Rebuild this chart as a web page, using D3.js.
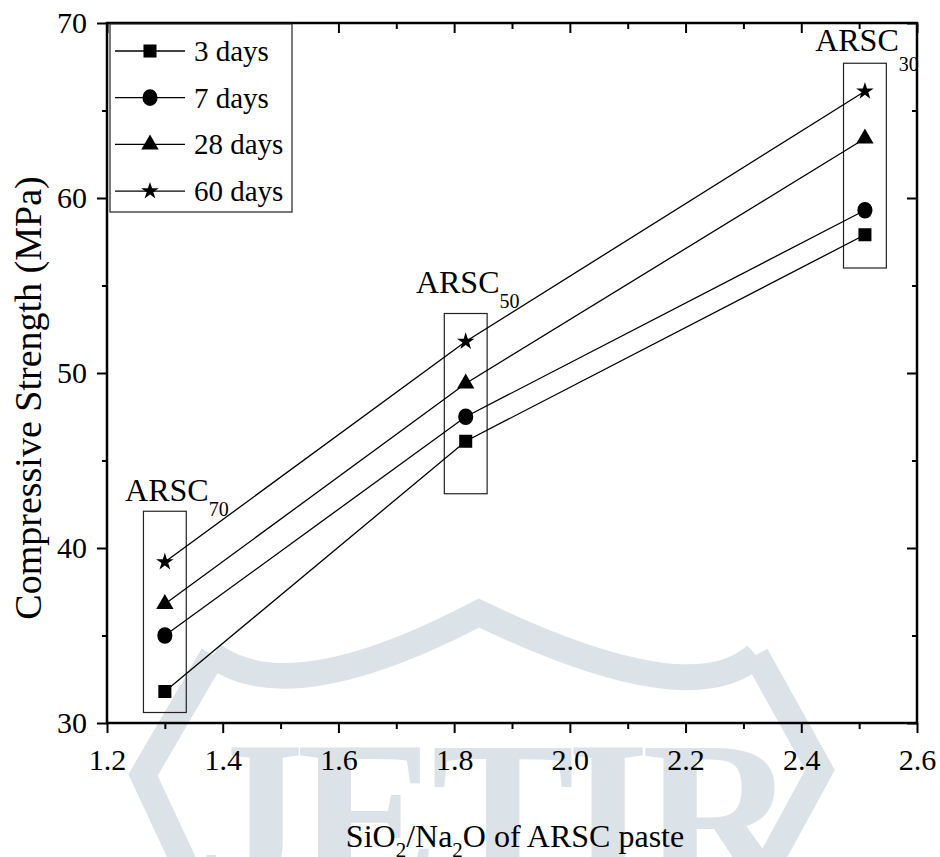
<!doctype html>
<html>
<head>
<meta charset="utf-8"/>
<style>
  html, body { margin: 0; padding: 0; background: #fff; }
  svg { display: block; }
  text { font-family: "Liberation Serif", "Times New Roman", serif; fill: #000; }
  .axis path { display: none; }
  .axis line { stroke: #000; stroke-width: 2; }
  .axis text { font-size: 30px; }
</style>
<script src="https://cdnjs.cloudflare.com/ajax/libs/d3/7.8.5/d3.min.js"></script>
</head>
<body>
<svg id="chart" width="940" height="857"></svg>
<script>
  // SiO2/Na2O ratio of each paste
  var ratios = [1.30, 1.82, 2.51];
  var pastes = ["70", "50", "30"];

  // compressive strength (MPa) per curing age
  var days3  = [31.8, 46.1, 57.9];
  var days7  = [35.0, 47.5, 59.3];
  var days28 = [36.8, 49.4, 63.4];
  var days60 = [39.2, 51.8, 66.1];

  var seriesNames = ["3 days", "7 days", "28 days", "60 days"];

  // boxes drawn round each paste group (MPa)
  var boxLow  = [30.6, 43.1, 56.0];
  var boxHigh = [42.1, 53.4, 67.7];
  var labelY  = [42.7, 54.6, 68.4];

  var xTicks = [1.2, 1.4, 1.6, 1.8, 2.0, 2.2, 2.4, 2.6];
  var xMinor = [1.3, 1.5, 1.7, 1.9, 2.1, 2.3, 2.5];
  var yTicks = [30, 40, 50, 60, 70];
  var yMinor = [35, 45, 55, 65];

  var svg = d3.select("#chart");
  var pLeft = 107, pRight = 917, pTop = 23, pBottom = 723;

  var x = d3.scaleLinear().domain([1.2, 2.6]).range([pLeft, pRight]);
  var y = d3.scaleLinear().domain([30, 70]).range([pBottom, pTop]);

  // faint watermark behind the plot
  var wmColor = "#dbe2e8";
  var wm = svg.append("g").attr("fill", "none").attr("stroke", wmColor)
      .attr("stroke-width", 26).attr("stroke-linejoin", "miter");
  wm.append("path").attr("d", "M213,655 Q290,712 479,613 Q690,715 756,655");
  wm.append("path").attr("d", "M213,655 L143,775 L192,880");
  wm.append("path").attr("d", "M756,655 L820,770 L760,880");
  svg.append("text")
      .attr("x", 497).attr("y", 888)
      .attr("text-anchor", "middle")
      .attr("textLength", 600)
      .style("font-size", "215px")
      .style("font-weight", "bold")
      .style("fill", wmColor)
      .text("JETIR");

  var fmtX = d3.format(".1f");

  svg.append("g").attr("class", "axis")
      .attr("transform", "translate(0," + pBottom + ")")
      .call(d3.axisBottom(x).tickValues(xTicks).tickFormat(fmtX).tickSize(10).tickPadding(16).tickSizeOuter(0));
  svg.append("g").attr("class", "axis")
      .attr("transform", "translate(0," + pBottom + ")")
      .call(d3.axisBottom(x).tickValues(xMinor).tickFormat("").tickSize(6).tickSizeOuter(0));
  svg.append("g").attr("class", "axis")
      .attr("transform", "translate(0," + pTop + ")")
      .call(d3.axisTop(x).tickValues(xTicks).tickFormat("").tickSize(-10).tickSizeOuter(0));
  svg.append("g").attr("class", "axis")
      .attr("transform", "translate(0," + pTop + ")")
      .call(d3.axisTop(x).tickValues(xMinor).tickFormat("").tickSize(-6).tickSizeOuter(0));

  svg.append("g").attr("class", "axis")
      .attr("transform", "translate(" + pLeft + ",0)")
      .call(d3.axisLeft(y).tickValues(yTicks).tickFormat(d3.format("d")).tickSize(10).tickPadding(10).tickSizeOuter(0));
  svg.append("g").attr("class", "axis")
      .attr("transform", "translate(" + pLeft + ",0)")
      .call(d3.axisLeft(y).tickValues(yMinor).tickFormat("").tickSize(5).tickSizeOuter(0));
  svg.append("g").attr("class", "axis")
      .attr("transform", "translate(" + pRight + ",0)")
      .call(d3.axisRight(y).tickValues(yTicks).tickFormat("").tickSize(-10).tickSizeOuter(0));
  svg.append("g").attr("class", "axis")
      .attr("transform", "translate(" + pRight + ",0)")
      .call(d3.axisRight(y).tickValues(yMinor).tickFormat("").tickSize(-5).tickSizeOuter(0));

  // plot frame
  svg.append("rect")
      .attr("x", pLeft).attr("y", pTop)
      .attr("width", pRight - pLeft).attr("height", pBottom - pTop)
      .attr("fill", "none").attr("stroke", "#000").attr("stroke-width", 2.5);

  // group boxes and labels
  var half = 0.037;
  pastes.forEach(function(p, i) {
    svg.append("rect")
        .attr("x", x(ratios[i] - half))
        .attr("y", y(boxHigh[i]))
        .attr("width", x(ratios[i] + half) - x(ratios[i] - half))
        .attr("height", y(boxLow[i]) - y(boxHigh[i]))
        .attr("fill", "none").attr("stroke", "#222").attr("stroke-width", 1.2);
    var t = svg.append("text")
        .attr("x", x(ratios[i]) + (i == 0 ? 12 : 2))
        .attr("y", y(labelY[i]))
        .attr("text-anchor", "middle")
        .style("font-size", "32px");
    t.append("tspan").text("ARSC");
    t.append("tspan").attr("dy", i == 2 ? 20 : 15).style("font-size", "20px").text(p);
  });

  var allSeries = [days3, days7, days28, days60];
  var shapes = [
    d3.symbol().type(d3.symbolSquare).size(170),
    d3.symbol().type(d3.symbolCircle).size(180),
    d3.symbol().type(d3.symbolTriangle).size(130),
    d3.symbol().type(d3.symbolStar).size(95)
  ];

  var line = d3.line()
      .x(function(d, i) { return x(ratios[i]); })
      .y(function(d) { return y(d); });

  allSeries.forEach(function(vals, s) {
    svg.append("path")
        .attr("d", line(vals))
        .attr("fill", "none").attr("stroke", "#000").attr("stroke-width", 1.3);
    svg.selectAll(null).data(vals).enter().append("path")
        .attr("d", shapes[s]())
        .attr("transform", function(d, i) {
          var sy = s == 1 ? " scale(1,1.1)" : "";
          return "translate(" + x(ratios[i]) + "," + y(d) + ")" + sy;
        })
        .attr("fill", "#000");
  });

  // legend
  var lg = svg.append("g");
  lg.append("rect")
      .attr("x", 110).attr("y", 24).attr("width", 182).attr("height", 188)
      .attr("fill", "#fff").attr("stroke", "#222").attr("stroke-width", 1.2);
  seriesNames.forEach(function(name, s) {
    var ry = 51 + s * 46.7;
    lg.append("line")
        .attr("x1", 115).attr("x2", 185).attr("y1", ry).attr("y2", ry)
        .attr("stroke", "#000").attr("stroke-width", 1.3);
    lg.append("path")
        .attr("d", shapes[s]())
        .attr("transform", "translate(150," + ry + ")" + (s == 1 ? " scale(1,1.1)" : ""))
        .attr("fill", "#000");
    lg.append("text")
        .attr("x", 194).attr("y", ry + 10)
        .style("font-size", "29px")
        .text(name);
  });

  // axis titles
  svg.append("text")
      .attr("transform", "translate(41," + 398 + ") rotate(-90)")
      .attr("text-anchor", "middle")
      .style("font-size", "38px")
      .text("Compressive Strength (MPa)");

  var xt = svg.append("text")
      .attr("x", 515).attr("y", 847)
      .attr("text-anchor", "middle")
      .style("font-size", "32px");
  xt.append("tspan").text("SiO");
  xt.append("tspan").attr("dy", 10).style("font-size", "21px").text("2");
  xt.append("tspan").attr("dy", -10).text("/Na");
  xt.append("tspan").attr("dy", 10).style("font-size", "21px").text("2");
  xt.append("tspan").attr("dy", -10).text("O of ARSC paste");
</script>
</body>
</html>
